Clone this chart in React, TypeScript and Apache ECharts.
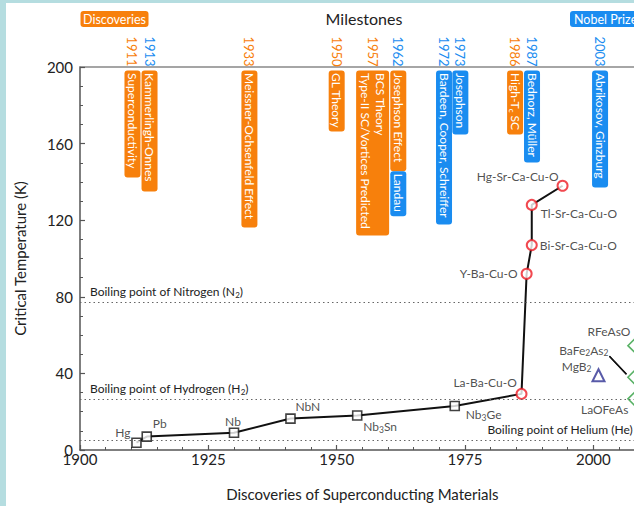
import React, { useEffect, useRef } from 'react';
import * as echarts from 'echarts';

// ---------- data ----------
const squareNames = ['Hg', 'Pb', 'Nb', 'NbN', 'Nb₃Sn', 'Nb₃Ge'];
const squareYears = [1911, 1913, 1930, 1941, 1954, 1973];
const squareTc = [3.8, 7, 9, 16.4, 18, 23];

const cuprateNames = ['La-Ba-Cu-O', 'Y-Ba-Cu-O', 'Bi-Sr-Ca-Cu-O', 'Tl-Sr-Ca-Cu-O', 'Hg-Sr-Ca-Cu-O'];
const cuprateYears = [1986, 1987, 1988, 1988, 1994];
const cuprateTc = [29.3, 92, 107, 128, 138];

const pnictideNames = ['RFeAsO', 'BaFe₂As₂', 'LaOFeAs'];
const pnictideYears = [2008, 2008, 2008];
const pnictideTc = [54.5, 38, 26.7];

const mgb2Names = ['MgB₂'];
const mgb2Years = [2001];
const mgb2Tc = [39];

const refLineNames = ['Boiling point of Nitrogen (N₂)', 'Boiling point of Hydrogen (H₂)', 'Boiling point of Helium (He)'];
const refLineTc = [77.4, 26.7, 5.2];

const yearLabelYears = [1911, 1913, 1933, 1950, 1957, 1962, 1972, 1973, 1986, 1987, 2003];
const yearLabelKinds = ['d', 'n', 'd', 'd', 'd', 'n', 'n', 'n', 'd', 'n', 'n'];

const msYears = [1911, 1913, 1933, 1950, 1957, 1962, 1962, 1972, 1973, 1986, 1987, 2003];
const msTexts = [
  'Superconductivity',
  'Kammerlingh-Onnes',
  'Meissner-Ochsenfeld Effect',
  'GL Theory',
  'BCS Theory\nType-II SC/Vortices Predicted',
  'Josephson Effect',
  'Landau',
  'Bardeen, Cooper, Schreiffer',
  'Josephson',
  'High-Tc SC',
  'Bednorz, Müller',
  'Abrikosov, Ginzburg',
];
const msKinds = ['d', 'd', 'd', 'd', 'd', 'd', 'n', 'n', 'n', 'd', 'n', 'n'];

// ---------- styles ----------
const ORANGE = '#f7800c';
const BLUE = '#1a8cf0';
const FONT = 'Lato';
const TXT = '#222';

const yearShift: Record<number, number> = { 1911: -4, 1913: 2.8, 1972: -5.6, 1973: 5.6, 1986: -6.4, 1987: 5.4, 2003: -8.7 };
const msStart = [3.5, 3.5, 3.5, 3.5, 3.5, 3.5, 104.2, 3.5, 3.5, 3.5, 3.5, 3.5];
const msLen = [107, 121, 157, 61, 165, 100.7, 45, 154, 64, 64, 92, 117];
const msWidth = [16, 16, 16, 16, 33, 16, 16, 16, 16, 16, 16, 16];

const labelPos: Record<string, { align: string; offset: number[] }> = {
  'Hg': { align: 'right', offset: [-6, -10] },
  'Pb': { align: 'left', offset: [6, -12.7] },
  'Nb': { align: 'center', offset: [-1, -11] },
  'NbN': { align: 'left', offset: [5, -12] },
  'Nb₃Sn': { align: 'left', offset: [6, 11] },
  'Nb₃Ge': { align: 'left', offset: [11, 9] },
  'La-Ba-Cu-O': { align: 'right', offset: [-4.7, -11.3] },
  'Y-Ba-Cu-O': { align: 'right', offset: [-9, 0] },
  'Bi-Sr-Ca-Cu-O': { align: 'left', offset: [8, 0] },
  'Tl-Sr-Ca-Cu-O': { align: 'left', offset: [9, 9] },
  'Hg-Sr-Ca-Cu-O': { align: 'right', offset: [-4, -9] },
  'RFeAsO': { align: 'right', offset: [-4, -14] },
  'BaFe₂As₂': { align: 'right', offset: [-26, -27] },
  'LaOFeAs': { align: 'right', offset: [-6, 11] },
  'MgB₂': { align: 'right', offset: [-7, -9] },
};

const richify = (s: string) =>
  s.replace(/[₀-₉]+/g, (m) => '{s|' + Array.from(m).map((c) => String.fromCharCode(c.charCodeAt(0) - 0x2080 + 48)).join('') + '}');

const subRich = (color: string, size = 8.5, lh = 15) => ({
  s: { fontSize: size, fontFamily: FONT, color, verticalAlign: 'bottom', lineHeight: lh },
});

const items = (names: string[], years: number[], vals: number[]) =>
  names.map((n, i) => ({
    name: n,
    value: [years[i], vals[i]],
    label: { align: labelPos[n].align, offset: labelPos[n].offset },
  }));

const pointLabel = {
  show: true,
  position: 'inside',
  formatter: (p: any) => richify(p.name),
  fontFamily: FONT,
  fontSize: 12,
  color: TXT,
  lineHeight: 15,
  textBorderWidth: 0,
  rich: subRich(TXT),
};

export default function App() {
  const ref = useRef<HTMLDivElement>(null);
  useEffect(() => {
    document.body.style.margin = '0';
    const chart = echarts.init(ref.current!, null, { renderer: 'svg' });

    const lineData = [
      ...squareYears.map((y, i) => [y, squareTc[i]]),
      ...cuprateYears.map((y, i) => [y, cuprateTc[i]]),
    ];

    const bi = pnictideNames.indexOf('BaFe₂As₂');

    const boxRender = (params: any, api: any) => {
      const i = api.value(2);
      const p = api.coord([api.value(0), api.value(1)]);
      const cx = p[0] + (yearShift[msYears[i]] || 0);
      const top = p[1] + msStart[i];
      const w = msWidth[i];
      const color = msKinds[i] === 'd' ? ORANGE : BLUE;
      return {
        type: 'group',
        children: [
          { type: 'rect', shape: { x: cx - w / 2, y: top, width: w, height: msLen[i], r: 3 }, style: { fill: color } },
          {
            type: 'text',
            x: cx,
            y: top + 2.5,
            rotation: -Math.PI / 2,
            style: {
              text: msTexts[i].replace('Tc', 'T{s|c}'),
              fill: '#fff',
              font: `12px ${FONT}`,
              align: 'left',
              verticalAlign: 'middle',
              lineHeight: 15,
              rich: { s: { fontSize: 8, fontFamily: FONT, fill: '#fff', verticalAlign: 'bottom', lineHeight: 15 } },
            },
          },
        ],
      };
    };

    const yearRender = (params: any, api: any) => {
      const i = api.value(2);
      const p = api.coord([api.value(0), api.value(1)]);
      const cx = p[0] + (yearShift[yearLabelYears[i]] || 0);
      return {
        type: 'text',
        x: cx,
        y: p[1] - 30.5,
        rotation: -Math.PI / 2,
        style: {
          text: String(yearLabelYears[i]),
          fill: yearLabelKinds[i] === 'd' ? ORANGE : BLUE,
          font: `13px ${FONT}`,
          align: 'left',
          verticalAlign: 'middle',
        },
      };
    };

    // leader line from the BaFe2As2 label to its marker
    const leaderRender = (params: any, api: any) => {
      const q = api.coord([api.value(0), api.value(1)]);
      return {
        type: 'polyline',
        shape: { points: [[q[0] - 25, q[1] - 21], [q[0] - 8, q[1] - 3]] },
        style: { stroke: '#111', lineWidth: 1.4, fill: null },
      };
    };

    const option: any = {
      animation: false,
      backgroundColor: '#fff',
      grid: { left: 80, top: 67, width: 564.7, height: 383, containLabel: false, outerBoundsMode: 'none' },
      xAxis: [
        {
          type: 'value',
          min: 1900,
          max: 2010,
          interval: 25,
          axisLine: { show: true, lineStyle: { color: '#555', width: 1.5 } },
          axisTick: { show: true, inside: true, length: 5, lineStyle: { color: '#555', width: 1.2 } },
          minorTick: { show: true, splitNumber: 5, length: 3, lineStyle: { color: '#555', width: 1 } },
          splitLine: { show: false },
          axisLabel: { fontFamily: FONT, fontSize: 15, color: TXT, margin: 1, showMaxLabel: false, formatter: (v: number) => String(v) },
          name: 'Discoveries of Superconducting Materials',
          nameLocation: 'middle',
          nameGap: 36,
          nameTextStyle: { fontFamily: FONT, fontSize: 15, color: TXT },
        },
        {
          type: 'value',
          position: 'top',
          min: 1900,
          max: 2010,
          axisLine: { show: true, lineStyle: { color: '#888', width: 1.5 } },
          axisTick: { show: false },
          axisLabel: { show: false },
          splitLine: { show: false },
        },
      ],
      yAxis: {
        type: 'value',
        min: 0,
        max: 200,
        interval: 40,
        axisLine: { show: true, lineStyle: { color: '#555', width: 1.5 } },
        axisTick: { show: true, inside: true, length: 5, lineStyle: { color: '#555', width: 1.2 } },
        minorTick: { show: true, splitNumber: 4, length: 3, lineStyle: { color: '#555', width: 1 } },
        splitLine: { show: false },
        axisLabel: { fontFamily: FONT, fontSize: 15, color: TXT, margin: 7 },
        name: 'Critical Temperature (K)',
        nameLocation: 'middle',
        nameGap: 53,
        nameTextStyle: { fontFamily: FONT, fontSize: 15, color: TXT },
      },
      graphic: [
        { type: 'rect', shape: { x: 0, y: 0, width: 6, height: 506 }, style: { fill: '#b5dde0' }, silent: true },
        { type: 'rect', shape: { x: 0, y: 0, width: 634, height: 3 }, style: { fill: '#b5dde0' }, silent: true },
        { type: 'rect', shape: { x: 80.5, y: 11, width: 68, height: 16, r: 3 }, style: { fill: ORANGE } },
        { type: 'text', x: 114.5, y: 19, style: { text: 'Discoveries', fill: '#fff', font: `12.5px ${FONT}`, align: 'center', verticalAlign: 'middle' } },
        { type: 'text', x: 364, y: 18.5, style: { text: 'Milestones', fill: TXT, font: `16px ${FONT}`, align: 'center', verticalAlign: 'middle' } },
        { type: 'rect', shape: { x: 570, y: 11, width: 80, height: 16, r: 3 }, style: { fill: BLUE } },
        { type: 'text', x: 574, y: 19, style: { text: 'Nobel Prize', fill: '#fff', font: `12.5px ${FONT}`, align: 'left', verticalAlign: 'middle' } },
      ],
      series: [
        {
          type: 'line',
          data: lineData,
          symbol: 'none',
          lineStyle: { color: '#111', width: 2 },
          z: 2,
          markLine: {
            silent: true,
            symbol: ['none', 'none'],
            lineStyle: { color: '#666', type: [1.5, 3], width: 1.2 },
            label: {
              formatter: (p: any) => richify(p.name),
              fontFamily: FONT,
              fontSize: 12,
              color: TXT,
              lineHeight: 15,
              rich: subRich(TXT, 8),
            },
            data: [
              { name: refLineNames[0], yAxis: refLineTc[0], label: { position: 'insideStartTop', distance: [10, 3] } },
              { name: refLineNames[1], yAxis: refLineTc[1], label: { position: 'insideStartTop', distance: [10, 3] } },
              { name: refLineNames[2], yAxis: refLineTc[2], label: { position: 'insideEndTop', distance: [12, 3] } },
            ],
          },
        },
        {
          type: 'custom',
          clip: false,
          renderItem: leaderRender,
          encode: { x: 0, y: 1 },
          data: [[pnictideYears[bi], pnictideTc[bi]], [pnictideYears[bi], pnictideTc[bi]]],
          z: 2,
          silent: true,
        },
        {
          type: 'scatter',
          data: items(squareNames, squareYears, squareTc),
          symbol: 'rect',
          symbolSize: 9,
          itemStyle: { color: '#fff', borderColor: '#111', borderWidth: 1.6 },
          label: pointLabel,
          z: 3,
        },
        {
          type: 'scatter',
          data: items(cuprateNames, cuprateYears, cuprateTc),
          symbol: 'circle',
          symbolSize: 10,
          itemStyle: { color: '#fff', borderColor: '#ee1c24', borderWidth: 2 },
          label: pointLabel,
          z: 3,
        },
        {
          type: 'scatter',
          data: items(pnictideNames, pnictideYears, pnictideTc),
          symbol: 'diamond',
          symbolSize: 13,
          itemStyle: { color: '#fff', borderColor: '#2e9e3e', borderWidth: 1.6 },
          label: pointLabel,
          z: 3,
        },
        {
          type: 'scatter',
          data: items(mgb2Names, mgb2Years, mgb2Tc),
          symbol: 'triangle',
          symbolSize: 12,
          itemStyle: { color: '#fff', borderColor: '#2e3192', borderWidth: 2 },
          label: pointLabel,
          z: 3,
        },
        {
          type: 'custom',
          clip: false,
          renderItem: boxRender,
          encode: { x: 0, y: 1 },
          data: msYears.map((y, i) => [y, 200, i]),
          z: 4,
          silent: true,
        },
        {
          type: 'custom',
          clip: false,
          renderItem: yearRender,
          encode: { x: 0, y: 1 },
          data: yearLabelYears.map((y, i) => [y, 200, i]),
          z: 4,
          silent: true,
        },
      ],
    };

    chart.setOption(option);
    return () => chart.dispose();
  }, []);
  return <div ref={ref} style={{ width: 634, height: 506, position: 'absolute', left: 0, top: 0 }} />;
}
